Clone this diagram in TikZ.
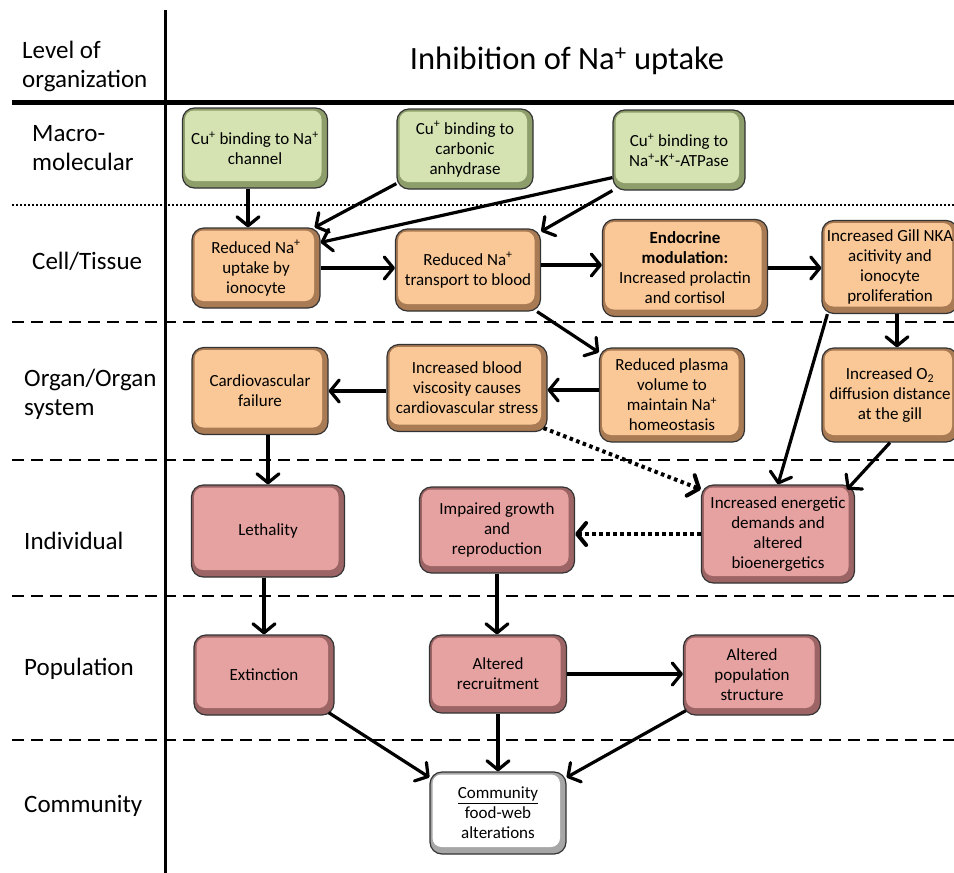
\documentclass[tikz,border=0pt]{standalone}
\usepackage{fontspec}
\setmainfont{Carlito}
\usetikzlibrary{arrows.meta}
\definecolor{glight}{HTML}{D5E3B3}
\definecolor{gdark}{HTML}{8E9E6A}
\definecolor{olight}{HTML}{FAC896}
\definecolor{odark}{HTML}{A97B55}
\definecolor{plight}{HTML}{E6A1A1}
\definecolor{pdark}{HTML}{9C6464}
\definecolor{clight}{HTML}{FFFFFF}
\definecolor{cdark}{HTML}{A6A6A6}
\newcommand\bevelfill[1]{\fill[#1, rounded corners=9pt] ([shift={(2.5pt,-2.5pt)}]path picture bounding box.north west) rectangle ([shift={(-6pt,7pt)}]path picture bounding box.south east);}
\newcommand\boxfont{\fontsize{17}{20}\selectfont}
\newcommand\lblfont{\fontsize{25}{29}\selectfont}
\tikzset{
  box/.style={rectangle, rounded corners=12pt, draw=black!80, line width=1.2pt, align=center, inner sep=2pt, font=\boxfont},
  gbox/.style={box, fill=gdark, path picture={\bevelfill{glight}}},
  obox/.style={box, fill=odark, path picture={\bevelfill{olight}}},
  pbox/.style={box, fill=pdark, path picture={\bevelfill{plight}}},
  cbox/.style={box, fill=cdark, path picture={\bevelfill{clight}}},
  lbl/.style={anchor=west, align=left, font=\lblfont, inner sep=0pt},
  arr/.style={line width=3.2pt, -{Straight Barb[length=9pt,width=22pt,round]}},
  darr/.style={arr, line width=4pt, dash pattern=on 3.5pt off 3.5pt},
  sepdash/.style={line width=2.8pt, dash pattern=on 12pt off 7pt},
  sepdot/.style={line width=2.8pt, dash pattern=on 2pt off 2pt},
}
\begin{document}
\begin{tikzpicture}[x=1pt,y=-1pt]
\useasboundingbox (0,0) rectangle (954,873);
\clip (0,0) rectangle (954,873);
\fill[white] (0,0) rectangle (954,873);
% grid lines
\coordinate (vt) at (165,10);
\coordinate (vb) at (165,873);
\draw[line width=5pt] (12,102) coordinate (h0l) -- (954,102) coordinate (h0r);
\draw[sepdot] (12,205) coordinate (h1l) -- (954,205) coordinate (h1r);
\draw[sepdash] (12,322) coordinate (h2l) -- (954,322) coordinate (h2r);
\draw[sepdash] (12,460) coordinate (h3l) -- (954,460) coordinate (h3r);
\draw[sepdash] (12,596) coordinate (h4l) -- (954,596) coordinate (h4r);
\draw[sepdash] (12,740) coordinate (h5l) -- (954,740) coordinate (h5r);
\draw[line width=3pt] (vt) -- (vb);
% labels
\node[lbl] (Llevel) at (22,66) {Level of\\organization};
\node[font=\fontsize{32.5}{38}\selectfont] (title) at (567,61) {Inhibition of Na\textsuperscript{+} uptake};
\node[lbl] (Lmacro) at (32,148) {Macro-\\molecular};
\node[lbl] (Lcell) at (32,261) {Cell/Tissue};
\node[lbl] (Lorgan) at (24,394) {Organ/Organ\\system};
\node[lbl] (Lind) at (24,541) {Individual};
\node[lbl] (Lpop) at (24,669) {Population};
\node[lbl] (Lcom) at (24,806) {Community};
% boxes
\node[gbox, minimum width=145pt, minimum height=80pt] (g1) at (255,148) {Cu\textsuperscript{+} binding to Na\textsuperscript{+}\\channel};
\node[gbox, minimum width=136pt, minimum height=80pt] (g2) at (465,149) {Cu\textsuperscript{+} binding to\\carbonic\\anhydrase};
\node[gbox, minimum width=132pt, minimum height=80pt] (g3) at (679,150) {Cu\textsuperscript{+} binding to\\Na\textsuperscript{+}-K\textsuperscript{+}-ATPase};
\node[obox, minimum width=128pt, minimum height=80pt] (o1) at (256,268) {Reduced Na\textsuperscript{+}\\uptake by\\ionocyte};
\node[obox, minimum width=145pt, minimum height=82pt] (o2) at (468,270) {Reduced Na\textsuperscript{+}\\transport to blood};
\node[obox, minimum width=165pt, minimum height=97pt] (o3) at (685,268) {\textbf{Endocrine}\\\textbf{modulation:}\\Increased prolactin\\and cortisol};
\node[obox, minimum width=136pt, minimum height=93pt] (o4) at (890,267) {Increased Gill NKA\\acitivity and\\ionocyte\\proliferation};
\node[obox, minimum width=136pt, minimum height=87pt] (o5) at (260,391) {Cardiovascular\\failure};
\node[obox, minimum width=160pt, minimum height=87pt] (o6) at (467,388) {Increased blood\\viscosity causes\\cardiovascular stress};
\node[obox, minimum width=145pt, minimum height=94pt] (o7) at (672,395) {Reduced plasma\\volume to\\maintain Na\textsuperscript{+}\\homeostasis};
\node[obox, minimum width=136pt, minimum height=94pt] (o8) at (890,395) {Increased O\textsubscript{2}\\diffusion distance\\at the gill};
\node[pbox, minimum width=153pt, minimum height=92pt] (p1) at (268,531) {Lethality};
\node[pbox, minimum width=155pt, minimum height=86pt] (p2) at (497,530) {Impaired growth\\and\\reproduction};
\node[pbox, minimum width=153pt, minimum height=98pt] (p3) at (778,534) {Increased energetic\\demands and\\altered\\bioenergetics};
\node[pbox, minimum width=140pt, minimum height=80pt] (p4) at (264,675) {Extinction};
\node[pbox, minimum width=137pt, minimum height=78pt] (p5) at (498,674) {Altered\\recruitment};
\node[pbox, minimum width=137pt, minimum height=80pt] (p6) at (752,675) {Altered\\population\\structure};
\node[cbox, minimum width=136pt, minimum height=82pt] (c) at (498,813) {\underline{Community}\\food-web\\alterations};
% connectors
\draw[arr] ([xshift=-7pt]g1.south) -- ([xshift=-7pt]g1.south |- o1.north);
\draw[arr] ([yshift=6pt]g2.south west) -- ([xshift=-6pt]o1.north east);
\draw[arr] ([yshift=13pt]g3.south west) -- ([yshift=-15pt]o1.north east);
\draw[arr] (g3.south west) -- ([yshift=-3pt]o2.north east);
\draw[arr] (o1.east) -- (o1.east -| o2.west);
\draw[arr] ([yshift=5pt]o2.east) -- ([yshift=5pt]o2.east -| o3.west);
\draw[arr] (o3.east) -- (o3.east -| o4.west);
\draw[arr] ([xshift=7pt]o4.south) -- ([xshift=7pt]o4.south |- o8.north);
\draw[arr] ([xshift=6pt]o4.south west) -- (p3.north);
\draw[arr] (o8.south) -- ([xshift=-8pt,yshift=-5pt]p3.north east);
\draw[arr] ([xshift=-4pt]o2.south east) -- ([yshift=-5pt]o7.north west);
\draw[arr] ([yshift=5pt]o7.west) -- ([yshift=5pt]o7.west -| o6.east);
\draw[arr] (o6.west |- o5.east) -- (o5.east);
\draw[arr] (p1.north |- o5.south) -- (p1.north);
\draw[darr] ([xshift=-4pt,yshift=4pt]o6.south east) -- ([yshift=-5pt]p3.north west);
\draw[darr] (p3.west) -- (p3.west -| p2.east);
\draw[arr] (p4.north |- p1.south) -- (p4.north);
\draw[arr] (p2.south) -- (p2.south |- p5.north);
\draw[arr] (p5.east) -- (p5.east -| p6.west);
\draw[arr] ([xshift=-6pt,yshift=3pt]p4.south east) -- ([yshift=-6pt]c.north west);
\draw[arr] (p5.south) -- (p5.south |- c.north);
\draw[arr] ([xshift=3pt,yshift=5pt]p6.south west) -- ([yshift=-6pt]c.north east);
\end{tikzpicture}
\end{document}
